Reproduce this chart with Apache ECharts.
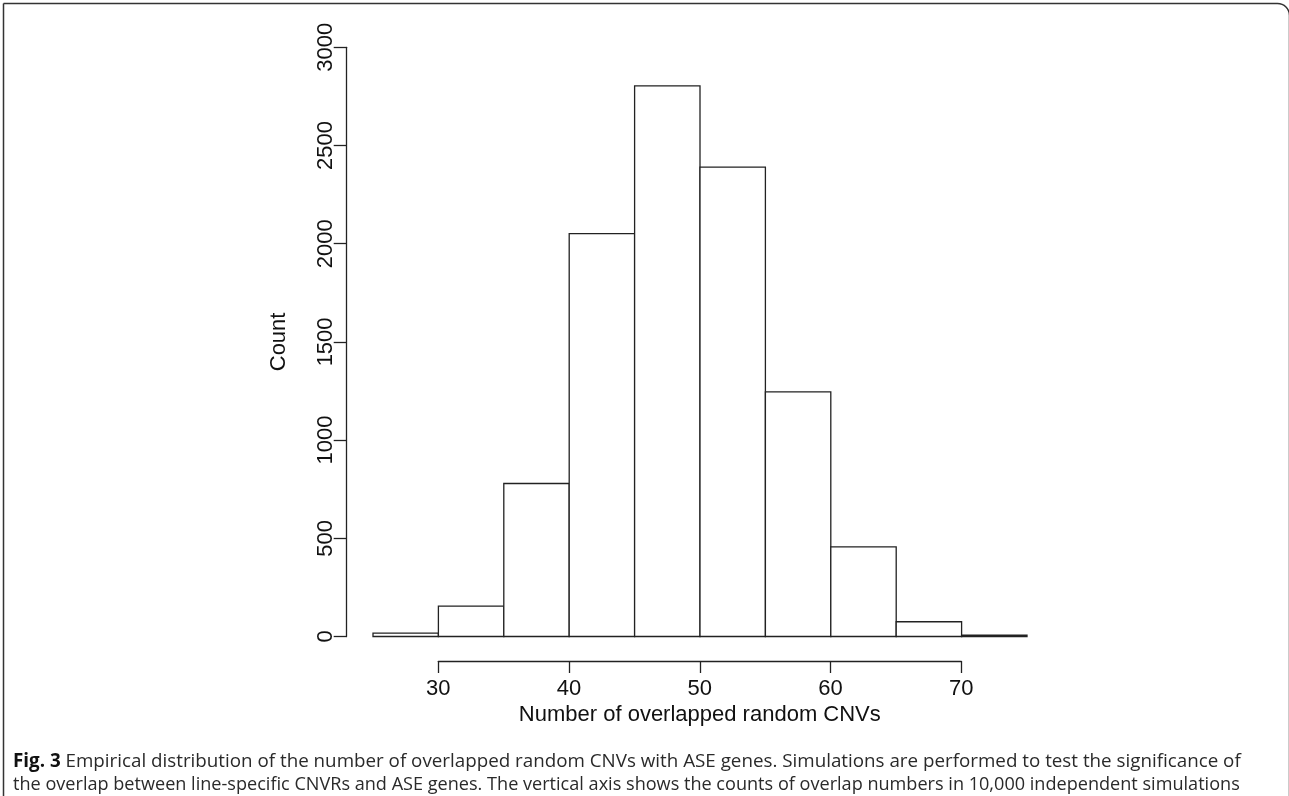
<!DOCTYPE html>
<html>
<head>
<meta charset="utf-8">
<script src="https://cdn.jsdelivr.net/npm/echarts@6/dist/echarts.min.js"></script>
<style>
html,body{margin:0;padding:0;background:#fff;}
#chart{width:1289px;height:796px;}
</style>
</head>
<body>
<div id="chart"></div>
<script>
// Histogram bins (left edges, right edges) and counts
const binStarts = [25, 30, 35, 40, 45, 50, 55, 60, 65, 70];
const binEnds   = [30, 35, 40, 45, 50, 55, 60, 65, 70, 75];
const counts    = [17, 155, 779, 2051, 2804, 2390, 1246, 456, 75, 7];
const yTicks = [0, 500, 1000, 1500, 2000, 2500, 3000];
const xTicks = [30, 40, 50, 60, 70];
const xTitle = 'Number of overlapped random CNVs';
const yTitle = 'Count';
const captionBold = 'Fig. 3';
const captionLine1 = ' Empirical distribution of the number of overlapped random CNVs with ASE genes. Simulations are performed to test the significance of';
const captionLine2 = 'the overlap between line-specific CNVRs and ASE genes. The vertical axis shows the counts of overlap numbers in 10,000 independent simulations';

const data = binStarts.map((s, i) => [s, binEnds[i], counts[i]]);
const FONT = '"Liberation Sans", Arial, Helvetica, sans-serif';
const CAP_FONT = '"Open Sans", sans-serif';

const chart = echarts.init(document.getElementById('chart'), null, {renderer: 'canvas'});
chart.setOption({
  animation: false,
  backgroundColor: '#fff',
  grid: [
    {left: 373, right: 262, top: 47.3, bottom: 159.5},
    {left: 438.3, right: 327.7, top: 600, bottom: 135}
  ],
  xAxis: [
    {type: 'value', gridIndex: 0, min: binStarts[0], max: binEnds[binEnds.length - 1], show: false},
    {type: 'value', gridIndex: 1, min: xTicks[0], max: xTicks[xTicks.length - 1], interval: 10,
     axisLine: {show: true, lineStyle: {color: '#222', width: 1.3}},
     axisTick: {show: true, length: 12, inside: false, lineStyle: {color: '#222', width: 1.3}},
     axisLabel: {show: true, fontSize: 22, color: '#111', fontFamily: FONT, margin: 17,
                 formatter: v => String(v)},
     splitLine: {show: false},
     name: xTitle, nameLocation: 'middle', nameGap: 43,
     nameTextStyle: {fontSize: 22, color: '#111', fontFamily: FONT}}
  ],
  yAxis: [
    {type: 'value', gridIndex: 0, min: yTicks[0], max: yTicks[yTicks.length - 1], interval: 500,
     offset: 26.3,
     axisLine: {show: true, lineStyle: {color: '#222', width: 1.3}},
     axisTick: {show: true, length: 13, inside: false, lineStyle: {color: '#222', width: 1.3}},
     axisLabel: {show: true, rotate: 90, fontSize: 22, color: '#111', fontFamily: FONT, margin: 10,
                 formatter: v => String(v)},
     splitLine: {show: false},
     name: yTitle, nameLocation: 'middle', nameGap: 57, nameRotate: 90,
     nameTextStyle: {fontSize: 22, color: '#111', fontFamily: FONT}},
    {type: 'value', gridIndex: 1, show: false, min: 0, max: 1}
  ],
  series: [{
    type: 'custom',
    xAxisIndex: 0,
    yAxisIndex: 0,
    data: data,
    encode: {x: [0, 1], y: 2},
    renderItem: function (params, api) {
      const p0 = api.coord([api.value(0), api.value(2)]);
      const p1 = api.coord([api.value(1), 0]);
      return {
        type: 'rect',
        shape: {x: p0[0], y: p0[1], width: p1[0] - p0[0], height: p1[1] - p0[1]},
        style: {fill: '#fff', stroke: '#222', lineWidth: 1.3}
      };
    }
  }],
  graphic: [
    {type: 'rect', left: 1, top: 1, silent: true,
     shape: {x: 0, y: 0, width: 1286, height: 840, r: [0, 12, 0, 0]},
     style: {fill: 'none', stroke: '#333', lineWidth: 1.5}},
    {type: 'text', left: 13, top: 752,
     style: {text: '{b|' + captionBold + '}' + captionLine1,
             font: '18.8px ' + CAP_FONT, fill: '#2a2a2a',
             rich: {b: {fontWeight: 'bold', fontSize: 18.8, fontFamily: CAP_FONT, fill: '#111'}}}},
    {type: 'text', left: 13, top: 776,
     style: {text: captionLine2, font: '18.1px ' + CAP_FONT, fill: '#2a2a2a'}}
  ]
});
</script>
</body>
</html>
